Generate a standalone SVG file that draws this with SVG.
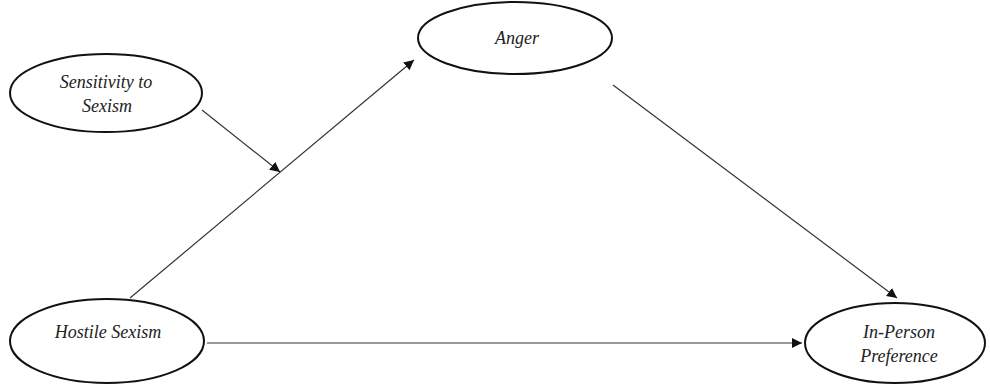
<svg xmlns="http://www.w3.org/2000/svg" width="990" height="385" viewBox="0 0 990 385">
<style>
.node ellipse{fill:#fff;stroke:#111;stroke-width:2}
.node text{font-family:'Liberation Serif','Times New Roman','DejaVu Serif',serif;font-style:italic;font-size:18px;fill:#222;text-anchor:middle}
.edge{stroke:#333;stroke-width:1.2;fill:none;marker-end:url(#ah)}
</style>
<defs>
<marker id="ah" viewBox="0 0 10 10" refX="10" refY="5" markerWidth="10" markerHeight="10" markerUnits="userSpaceOnUse" orient="auto">
<path d="M0,0 L10,5 L0,10 z" fill="#111"/>
</marker>
</defs>
<rect width="990" height="385" fill="#fff"/>
<g id="connectors">
<line class="edge" x1="130" y1="298" x2="414" y2="60"/>
<line class="edge" x1="613" y1="85" x2="897" y2="298"/>
<line class="edge" x1="207" y1="343" x2="802" y2="343"/>
<line class="edge" x1="202" y1="110" x2="280" y2="172"/>
</g>
<g id="sensitivity" class="node">
<ellipse cx="106" cy="93" rx="96" ry="39"/>
<text x="106" y="88">Sensitivity to</text>
<text x="107" y="112">Sexism</text>
</g>
<g id="anger" class="node">
<ellipse cx="515" cy="38" rx="97" ry="36"/>
<text x="517" y="44">Anger</text>
</g>
<g id="hostile" class="node">
<ellipse cx="107" cy="341" rx="97" ry="42"/>
<text x="108" y="338">Hostile Sexism</text>
</g>
<g id="inperson" class="node">
<ellipse cx="895" cy="343" rx="90" ry="40"/>
<text x="899" y="338">In-Person</text>
<text x="899" y="362">Preference</text>
</g>
</svg>
